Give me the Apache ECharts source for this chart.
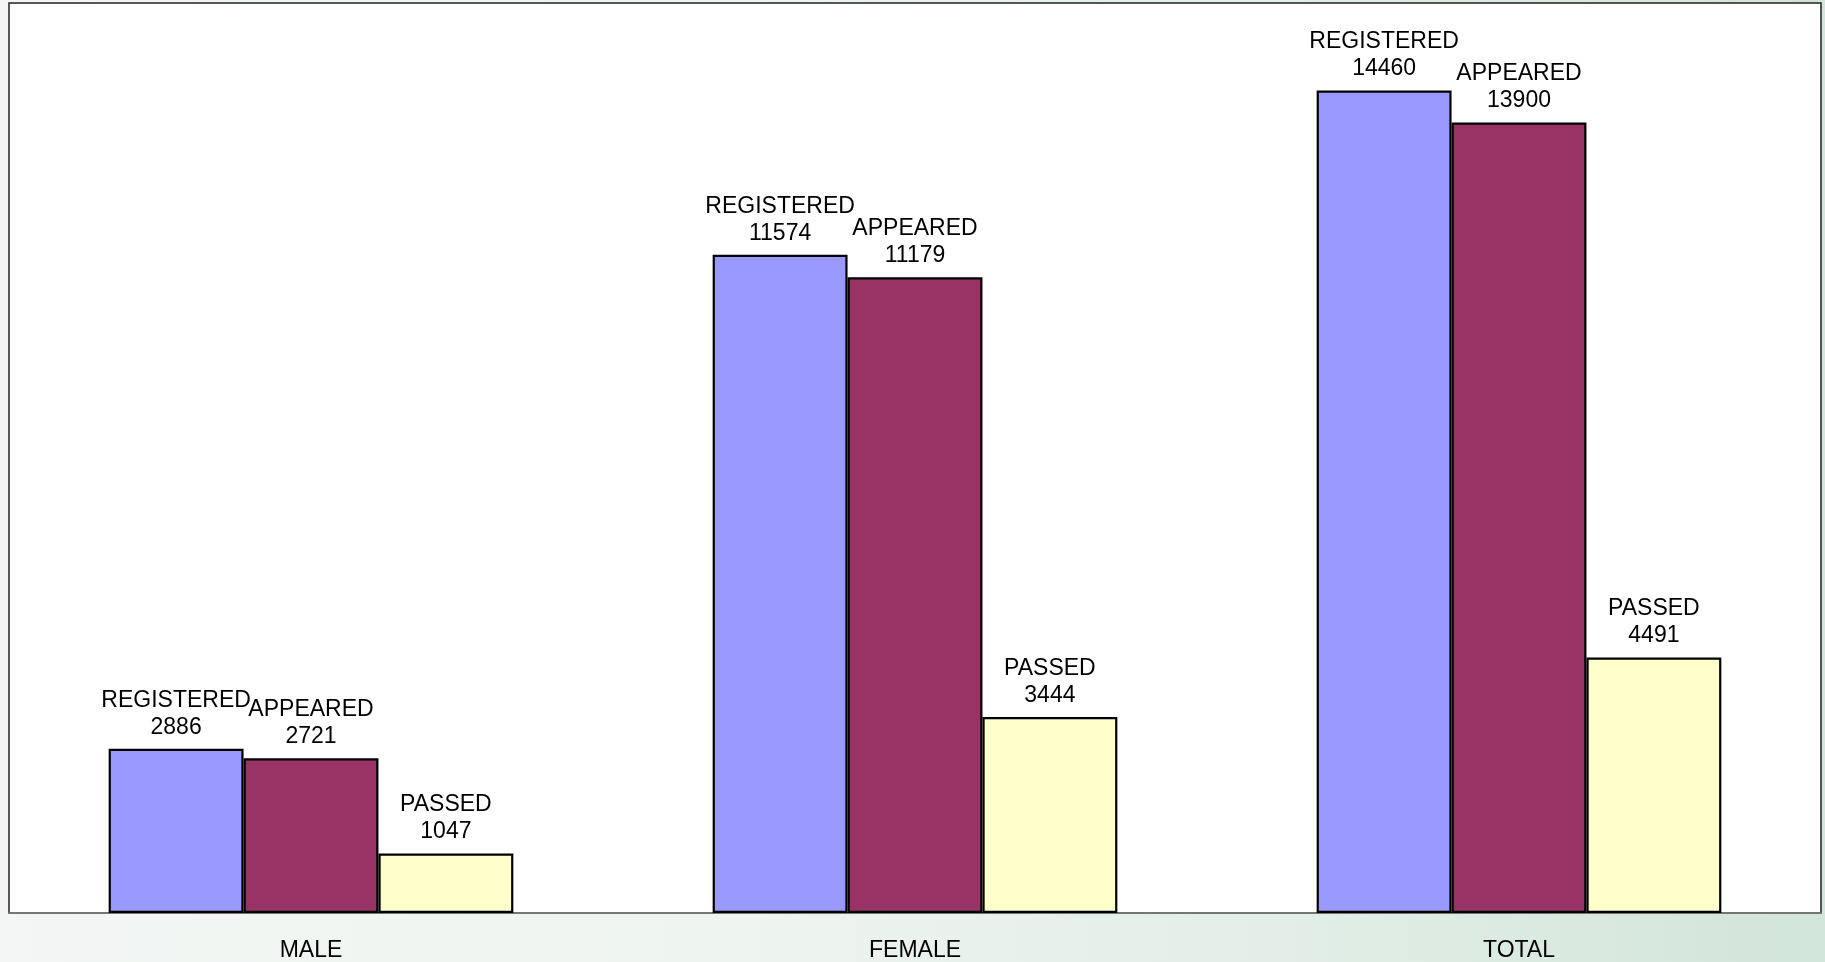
<!DOCTYPE html>
<html>
<head>
<meta charset="utf-8">
<script src="https://cdn.jsdelivr.net/npm/echarts@6/dist/echarts.min.js"></script>
<style>
html,body{margin:0;padding:0;width:1825px;height:962px;overflow:hidden;
background:linear-gradient(90deg,#f3f6f4 0%,#eef4f0 40%,#e2eee7 70%,#d2e5da 100%);}
#c{width:1825px;height:962px;}
</style>
</head>
<body>
<div id="c"></div>
<script>
const categories = ['MALE', 'FEMALE', 'TOTAL'];
const registered = [2886, 11574, 14460];
const appeared = [2721, 11179, 13900];
const passed = [1047, 3444, 4491];
const seriesNames = ['REGISTERED', 'APPEARED', 'PASSED'];
const seriesColors = ['#9999FF', '#993366', '#FFFFCC'];
const seriesData = [registered, appeared, passed];

const chart = echarts.init(document.getElementById('c'));
const font = 'Liberation Sans, Arial, sans-serif';
chart.setOption({
  animation: false,
  backgroundColor: 'transparent',
  grid: {
    left: 9, right: 4, top: 3, bottom: 49,
    show: true, backgroundColor: '#ffffff',
    borderColor: '#222', borderWidth: 1.5
  },
  xAxis: {
    type: 'category',
    data: categories,
    axisLine: { lineStyle: { color: '#808080', width: 1.5 } },
    axisTick: { show: false },
    axisLabel: { fontFamily: font, fontSize: 23, color: '#000', margin: 26 }
  },
  yAxis: {
    type: 'value', min: 0, max: 16000,
    show: false,
    splitLine: { show: false }
  },
  series: seriesData.map((d, i) => ({
    name: seriesNames[i],
    type: 'bar',
    data: d,
    barGap: '0%',
    barCategoryGap: '33%',
    itemStyle: { color: seriesColors[i], borderColor: '#000', borderWidth: 2.2 },
    label: {
      show: true, position: 'top', distance: 8,
      formatter: '{a}\n{c}',
      fontFamily: font, fontSize: 23, lineHeight: 27, color: '#000', align: 'center'
    }
  }))
});
</script>
</body>
</html>
